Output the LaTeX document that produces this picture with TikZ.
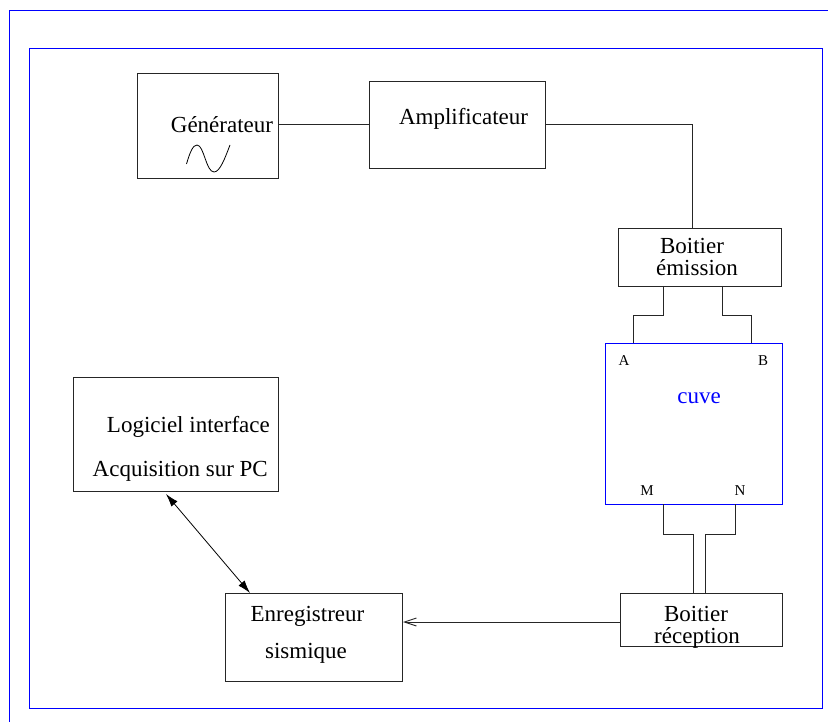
\documentclass[tikz,border=0pt]{standalone}
\usepackage{fontspec}
\setmainfont{Liberation Serif}
\usetikzlibrary{arrows.meta}
\begin{document}
\begin{tikzpicture}[x=1pt,y=-1pt,
  box/.style={draw=black!85,line width=0.9pt,inner sep=0pt},
  lbl/.style={anchor=base,inner sep=0pt,font=\fontsize{23}{23}\selectfont},
  small/.style={anchor=base,inner sep=0pt,font=\fontsize{15}{15}\selectfont},
  wire/.style={draw=black!85,line width=0.9pt},
  frame/.style={draw=blue,line width=1pt}]
\useasboundingbox (0,0) rectangle (828,722);
% frames
\draw[frame] (9.5,730) -- (9.5,10.5) -- (840,10.5);
\draw[frame] (29,49) rectangle (822,708);
% boxes
\node[box,minimum width=141pt,minimum height=105pt] (gen) at (207.5,125.5) {};
\node[box,minimum width=176pt,minimum height=87pt] (amp) at (457,124.5) {};
\node[box,minimum width=163pt,minimum height=58pt] (emis) at (699.5,257) {};
\node[box,draw=blue,minimum width=177pt,minimum height=161pt] (cuve) at (693.5,423.5) {};
\node[box,minimum width=162pt,minimum height=53pt] (recep) at (701,619.5) {};
\node[box,minimum width=177pt,minimum height=88pt] (enreg) at (313.5,637) {};
\node[box,minimum width=205pt,minimum height=114pt] (logi) at (175.5,434) {};
% texts
\node[lbl] (tgen) at (222,133) {Générateur};
\node[lbl] (tamp) at (463.5,124.5) {Amplificateur};
\node[lbl] (temis1) at (692,254) {Boitier};
\node[lbl] (temis2) at (697,275.5) {émission};
\node[lbl,text=blue] (tcuve) at (699,403) {cuve};
\node[small] (tA) at (624,365) {A};
\node[small] (tB) at (763,365) {B};
\node[small] (tM) at (647,495) {M};
\node[small] (tN) at (740,495) {N};
\node[lbl] (trec1) at (696,621) {Boitier};
\node[lbl] (trec2) at (697,643) {réception};
\node[lbl] (tenr1) at (307.5,621.5) {Enregistreur};
\node[lbl] (tenr2) at (306,658) {sismique};
\node[lbl,anchor=base east] (tlog1) at (270,432.5) {Logiciel interface};
\node[lbl,anchor=base east] (tlog2) at (268,476.5) {Acquisition sur PC};
% sine wave
\draw[line width=0.8pt] (186.5,164) .. controls (190,152) and (193,145) .. (197,145)
  .. controls (204,145) and (206,172) .. (214,172)
  .. controls (220,172) and (225,158) .. (230,145);
% connectors
\coordinate (e1) at (692,228);
\coordinate (ea) at (663,286);
\coordinate (eb) at (722,286);
\coordinate (ca) at (633,343);
\coordinate (cb) at (751,343);
\coordinate (cm) at (663,504);
\coordinate (cn) at (735,504);
\coordinate (rm) at (693,593);
\coordinate (rn) at (705,593);
\coordinate (r1) at (620,622);
\coordinate (g1) at (403,622);
\coordinate (l1) at (166,494);
\coordinate (g2) at (250,593);
\draw[wire] (gen.east |- amp.west) -- (amp.west);
\draw[wire] (amp.east) -| (e1);
\draw[wire] (ea) -- ++(0,29) -| (ca);
\draw[wire] (eb) -- ++(0,29) -| (cb);
\draw[wire] (cm) -- ++(0,30) -| (rm);
\draw[wire] (cn) -- ++(0,30) -| (rn);
\draw[wire,-{Straight Barb[length=12pt,width=8pt]}] (r1) -- (g1);
\draw[line width=0.8pt,{Latex[length=13pt,width=8pt]}-{Latex[length=13pt,width=8pt]}] (l1) -- (g2);
\end{tikzpicture}
\end{document}
